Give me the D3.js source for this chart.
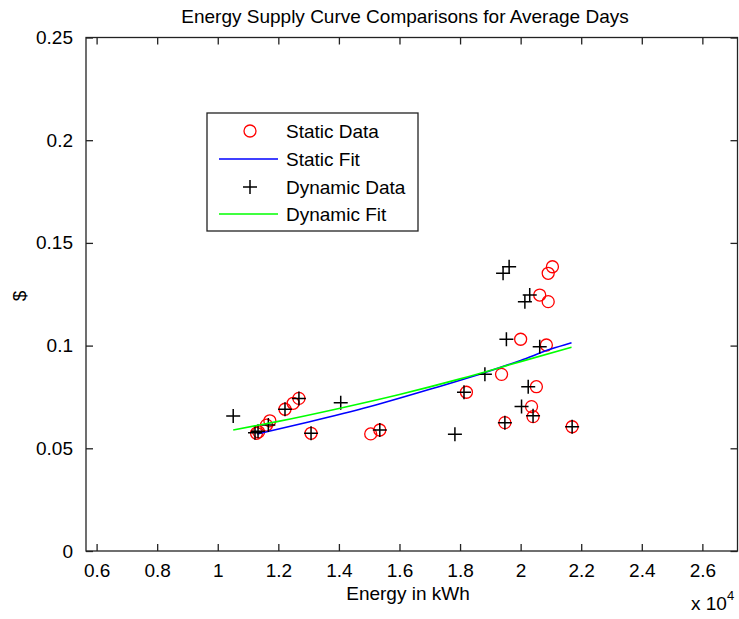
<!DOCTYPE html>
<html>
<head>
<meta charset="utf-8">
<script src="https://cdn.jsdelivr.net/npm/d3@7"></script>
<style>
  body { margin: 0; background: #fff; }
  text { font-family: "Liberation Sans", Arial, sans-serif; fill: #000; }
</style>
</head>
<body>
<div id="chart"></div>
<script>
// energy (x 10^4 kWh) and price ($) for each day
const staticX = [1.128, 1.135, 1.161, 1.172, 1.222, 1.249, 1.268, 1.308, 1.505, 1.535, 1.821, 1.937, 1.948, 2.000, 2.036, 2.041, 2.052, 2.063, 2.085, 2.091, 2.091, 2.105, 2.170];
const staticY = [0.0573, 0.0580, 0.0613, 0.0634, 0.0690, 0.0719, 0.0743, 0.0573, 0.0570, 0.0589, 0.0773, 0.0860, 0.0625, 0.1031, 0.0703, 0.0654, 0.0800, 0.1246, 0.1003, 0.1214, 0.1352, 0.1384, 0.0605];

const dynamicX = [1.051, 1.123, 1.133, 1.167, 1.222, 1.268, 1.308, 1.406, 1.535, 1.783, 1.813, 1.882, 1.942, 1.948, 1.953, 1.962, 2.003, 2.014, 2.025, 2.030, 2.041, 2.063, 2.170];
const dynamicY = [0.0657, 0.0576, 0.0583, 0.0613, 0.0690, 0.0743, 0.0573, 0.0722, 0.0589, 0.0568, 0.0773, 0.0860, 0.1352, 0.0625, 0.1031, 0.1384, 0.0703, 0.1214, 0.0800, 0.1246, 0.0659, 0.0995, 0.0605];

// fitted curves
const staticFitX = [1.13, 1.3, 1.5, 1.7, 1.9, 2.0, 2.1, 2.168];
const staticFitY = [0.0570, 0.0628, 0.0702, 0.0787, 0.0878, 0.0928, 0.0983, 0.1014];
const dynamicFitX = [1.051, 1.2, 1.4, 1.6, 1.8, 2.0, 2.168];
const dynamicFitY = [0.0589, 0.0631, 0.0694, 0.0762, 0.0838, 0.0922, 0.0992];

const xTicks = [0.6, 0.8, 1, 1.2, 1.4, 1.6, 1.8, 2, 2.2, 2.4, 2.6];
const yTicks = [0, 0.05, 0.1, 0.15, 0.2, 0.25];

const legendItems = ["Static Data", "Static Fit", "Dynamic Data", "Dynamic Fit"];

const W = 739, H = 619;
const margin = { top: 37.5, right: 1.5, bottom: 68, left: 86 };
const width = W - margin.left - margin.right;
const height = H - margin.top - margin.bottom;
const fontSize = 19;

const svg = d3.select("#chart").append("svg")
    .attr("width", W)
    .attr("height", H);

const g = svg.append("g")
    .attr("transform", `translate(${margin.left},${margin.top})`);

const x = d3.scaleLinear().domain([0.565, 2.716]).range([0, width]);
const y = d3.scaleLinear().domain([0, 0.25]).range([height, 0]);

const tickLen = 7;
const fmt = d => String(d);

// axes with inward ticks, mirrored on the opposite sides
g.append("g")
    .attr("transform", `translate(0,${height})`)
    .call(d3.axisBottom(x).tickValues(xTicks).tickFormat(fmt).tickSizeInner(-tickLen).tickSizeOuter(0).tickPadding(13))
    .call(a => a.select(".domain").remove());
g.append("g")
    .call(d3.axisTop(x).tickValues(xTicks).tickFormat("").tickSizeInner(-tickLen).tickSizeOuter(0))
    .call(a => a.select(".domain").remove());
g.append("g")
    .call(d3.axisLeft(y).tickValues(yTicks).tickFormat(fmt).tickSizeInner(-tickLen).tickSizeOuter(0).tickPadding(13))
    .call(a => a.select(".domain").remove());
g.append("g")
    .attr("transform", `translate(${width},0)`)
    .call(d3.axisRight(y).tickValues(yTicks).tickFormat("").tickSizeInner(-tickLen).tickSizeOuter(0))
    .call(a => a.select(".domain").remove());

g.selectAll(".tick line").attr("stroke", "#222").attr("stroke-width", 1.3);
g.selectAll(".tick text")
    .style("font-family", '"Liberation Sans", Arial, sans-serif')
    .style("font-size", fontSize + "px")
    .attr("fill", "#000");

g.append("rect")
    .attr("width", width)
    .attr("height", height)
    .attr("fill", "none")
    .attr("stroke", "#222")
    .attr("stroke-width", 1.3);

const staticData = staticX.map((v, i) => ({ x: v, y: staticY[i] }));
const dynamicData = dynamicX.map((v, i) => ({ x: v, y: dynamicY[i] }));
const staticFit = staticFitX.map((v, i) => ({ x: v, y: staticFitY[i] }));
const dynamicFit = dynamicFitX.map((v, i) => ({ x: v, y: dynamicFitY[i] }));

const line = d3.line().x(d => x(d.x)).y(d => y(d.y)).curve(d3.curveMonotoneX);

const crossPath = s => `M${-s},0H${s}M0,${-s}V${s}`;

// static data circles
g.selectAll(".static").data(staticData).enter()
    .append("circle")
    .attr("class", "static")
    .attr("cx", d => x(d.x))
    .attr("cy", d => y(d.y))
    .attr("r", 6)
    .attr("fill", "none")
    .attr("stroke", "#ff0000")
    .attr("stroke-width", 1.3);

g.append("path")
    .datum(staticFit)
    .attr("d", line)
    .attr("fill", "none")
    .attr("stroke", "#0000ff")
    .attr("stroke-width", 1.6);

// dynamic data crosses
g.selectAll(".dynamic").data(dynamicData).enter()
    .append("path")
    .attr("class", "dynamic")
    .attr("transform", d => `translate(${x(d.x)},${y(d.y)})`)
    .attr("d", crossPath(7))
    .attr("stroke", "#000")
    .attr("stroke-width", 1.5);

g.append("path")
    .datum(dynamicFit)
    .attr("d", line)
    .attr("fill", "none")
    .attr("stroke", "#00ff00")
    .attr("stroke-width", 1.6);

// title and labels
svg.append("text")
    .attr("x", 405)
    .attr("y", 22.5)
    .attr("text-anchor", "middle")
    .style("font-size", fontSize + "px")
    .text("Energy Supply Curve Comparisons for Average Days");

svg.append("text")
    .attr("x", 408)
    .attr("y", 600)
    .attr("text-anchor", "middle")
    .style("font-size", fontSize + "px")
    .text("Energy in kWh");

svg.append("text")
    .attr("transform", "translate(26,296) rotate(-90)")
    .attr("text-anchor", "middle")
    .style("font-size", fontSize + "px")
    .text("$");

const expo = svg.append("text")
    .attr("x", 691)
    .attr("y", 610)
    .style("font-size", fontSize + "px");
expo.append("tspan").text("x 10");
expo.append("tspan")
    .attr("dy", -10)
    .style("font-size", "13px")
    .text("4");

// legend
const legend = svg.append("g").attr("transform", "translate(207,113)");
legend.append("rect")
    .attr("width", 211)
    .attr("height", 118)
    .attr("fill", "#fff")
    .attr("stroke", "#222")
    .attr("stroke-width", 1.3);

const rowY = [18, 46, 74, 101];
legendItems.forEach((name, i) => {
    const row = legend.append("g").attr("transform", `translate(0,${rowY[i]})`);
    if (i === 0) {
        row.append("circle").attr("cx", 43).attr("r", 6)
            .attr("fill", "none").attr("stroke", "#ff0000").attr("stroke-width", 1.3);
    } else if (i === 2) {
        row.append("path").attr("transform", "translate(43,0)")
            .attr("d", crossPath(7)).attr("stroke", "#000").attr("stroke-width", 1.5);
    } else {
        row.append("line").attr("x1", 12).attr("x2", 71)
            .attr("stroke", i === 1 ? "#0000ff" : "#00ff00").attr("stroke-width", 1.6);
    }
    row.append("text")
        .attr("x", 79)
        .attr("dy", "0.35em")
        .style("font-size", fontSize + "px")
        .text(name);
});
</script>
</body>
</html>
